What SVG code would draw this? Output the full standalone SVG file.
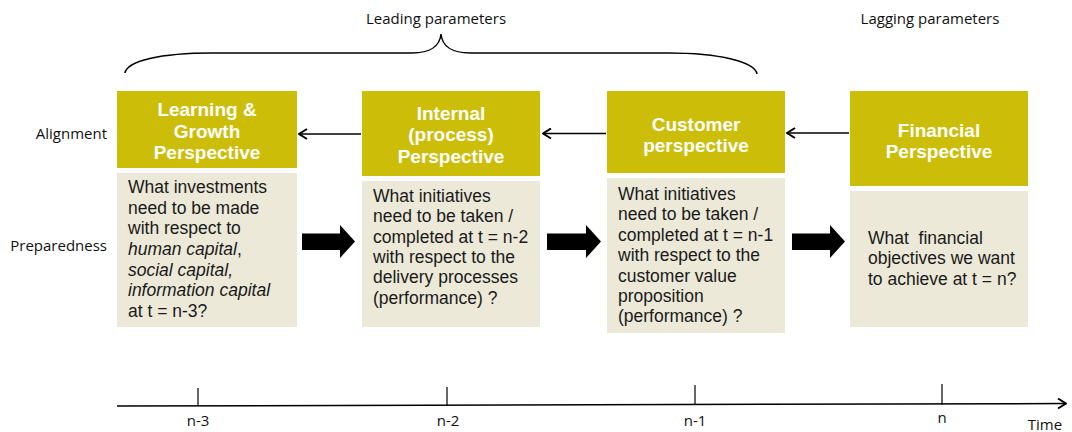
<svg xmlns="http://www.w3.org/2000/svg" width="1072" height="432" viewBox="0 0 1072 432">
<style>
.hdr{fill:#CCBE08;}
.body{fill:#ECE9D8;}
.ht{font-family:"Liberation Sans",Arial,sans-serif;font-weight:bold;font-size:19px;fill:#FFFFFF;text-anchor:middle;}
.bt{font-family:"Liberation Sans",Arial,sans-serif;font-size:17.5px;fill:#1A1A1A;}
.lbl{font-family:"Open Sans","Noto Sans",sans-serif;font-size:15px;fill:#111111;}
.tl{font-family:"Open Sans","Noto Sans",sans-serif;font-size:15px;fill:#111111;text-anchor:middle;}
.thin{stroke:#000;stroke-width:1.5;fill:none;}
.block{fill:#000;}
</style>
<defs>
<marker id="chev" markerUnits="userSpaceOnUse" viewBox="0 0 10 12" markerWidth="10" markerHeight="12" refX="9" refY="6" orient="auto">
<path d="M1,1 L9,6 L1,11" fill="none" stroke="#000" stroke-width="2"/>
</marker>
</defs>
<rect width="1072" height="432" fill="#FFFFFF"/>

<g id="labels">
<text class="lbl" x="436" y="24" text-anchor="middle">Leading parameters</text>
<text class="lbl" x="930" y="24" text-anchor="middle">Lagging parameters</text>
<text class="lbl" x="107" y="139" text-anchor="end">Alignment</text>
<text class="lbl" x="107" y="251" text-anchor="end">Preparedness</text>
<path class="thin" d="M125,73 C127,61 160,53 212,53 L412,53 C430,53 440,46 441,34 C442,46 452,53 470,53 L668,53 C720,53 755,62 757,74"/>
</g>

<g id="node-learning">
<rect class="hdr" x="117" y="91" width="180" height="77"/>
<text class="ht" x="207" y="116">Learning &amp;</text>
<text class="ht" x="207" y="137.5">Growth</text>
<text class="ht" x="207" y="159">Perspective</text>
<rect class="body" x="117" y="173" width="180" height="154"/>
<text class="bt" x="128" y="193">What investments</text>
<text class="bt" x="128" y="213.7">need to be made</text>
<text class="bt" x="128" y="234.4">with respect to</text>
<text class="bt" x="128" y="255"><tspan font-style="italic">human capital</tspan>,</text>
<text class="bt" x="128" y="275.7" font-style="italic">social capital,</text>
<text class="bt" x="128" y="296.3" font-style="italic">information capital</text>
<text class="bt" x="128" y="317">at t = n-3?</text>
</g>

<g id="node-internal">
<rect class="hdr" x="362" y="91" width="178" height="85"/>
<text class="ht" x="451" y="119.5">Internal</text>
<text class="ht" x="451" y="141">(process)</text>
<text class="ht" x="451" y="162.5">Perspective</text>
<rect class="body" x="362" y="181" width="178" height="146"/>
<text class="bt" x="373" y="202">What initiatives</text>
<text class="bt" x="373" y="222.3">need to be taken /</text>
<text class="bt" x="373" y="242.6">completed at t = n-2</text>
<text class="bt" x="373" y="262.9">with respect to the</text>
<text class="bt" x="373" y="283.2">delivery processes</text>
<text class="bt" x="373" y="303.5">(performance) ?</text>
</g>

<g id="node-customer">
<rect class="hdr" x="607" y="91" width="178" height="82"/>
<text class="ht" x="696" y="130.5">Customer</text>
<text class="ht" x="696" y="152">perspective</text>
<rect class="body" x="607" y="178" width="178" height="155"/>
<text class="bt" x="618" y="200">What initiatives</text>
<text class="bt" x="618" y="220.4">need to be taken /</text>
<text class="bt" x="618" y="240.8">completed at t = n-1</text>
<text class="bt" x="618" y="261.2">with respect to the</text>
<text class="bt" x="618" y="281.6">customer value</text>
<text class="bt" x="618" y="302">proposition</text>
<text class="bt" x="618" y="322.4">(performance) ?</text>
</g>

<g id="node-financial">
<rect class="hdr" x="850" y="91" width="178" height="95"/>
<text class="ht" x="939" y="136.5">Financial</text>
<text class="ht" x="939" y="158">Perspective</text>
<rect class="body" x="850" y="191" width="178" height="136"/>
<text class="bt" x="868" y="244">What&#160; financial</text>
<text class="bt" x="868" y="264.4">objectives we want</text>
<text class="bt" x="868" y="284.8">to achieve at t = n?</text>
</g>

<g id="connectors">
<line class="thin" x1="361" y1="134" x2="299" y2="134" marker-end="url(#chev)"/>
<line class="thin" x1="606" y1="133.5" x2="543" y2="133.5" marker-end="url(#chev)"/>
<line class="thin" x1="849" y1="133" x2="787" y2="133" marker-end="url(#chev)"/>
<polygon class="block" points="302,233.5 340,233.5 340,225 355,241.5 340,258 340,250 302,250"/>
<polygon class="block" points="547,233.5 586,233.5 586,225 601,241.5 586,258 586,250 547,250"/>
<polygon class="block" points="792,233.5 830,233.5 830,225 845,241.5 830,258 830,250 792,250"/>
</g>

<g id="timeline">
<line class="thin" x1="117" y1="406" x2="1066" y2="403.5" marker-end="url(#chev)"/>
<line stroke="#000" stroke-width="1.2" x1="198" y1="388" x2="198" y2="406"/>
<line stroke="#000" stroke-width="1.2" x1="447" y1="387" x2="447" y2="405.5"/>
<line stroke="#000" stroke-width="1.2" x1="695" y1="385" x2="695" y2="405"/>
<line stroke="#000" stroke-width="1.2" x1="942" y1="384" x2="942" y2="404.5"/>
<text class="tl" x="198" y="426">n-3</text>
<text class="tl" x="448" y="426">n-2</text>
<text class="tl" x="695" y="426">n-1</text>
<text class="tl" x="942" y="423">n</text>
<text class="tl" x="1045" y="430">Time</text>
</g>
</svg>
